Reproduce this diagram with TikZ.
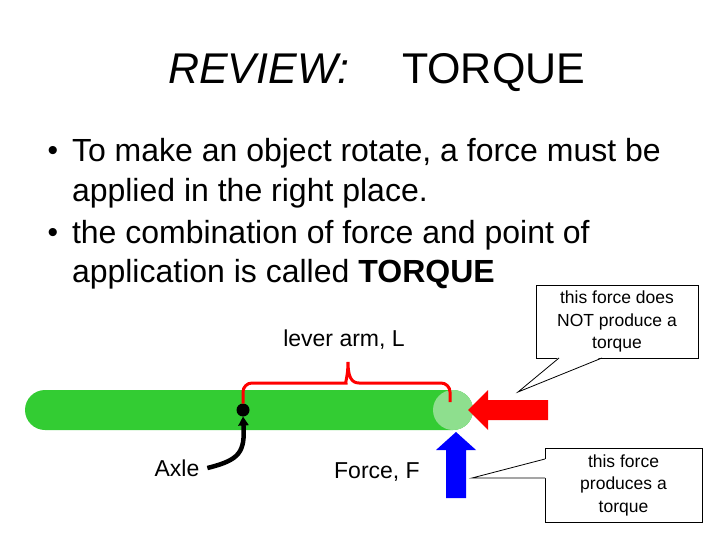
\documentclass[tikz,border=0pt]{standalone}
\usepackage{fontspec}
\setmainfont{Liberation Sans}
\usepackage{xcolor}
\usetikzlibrary{positioning,calc,arrows.meta}
\definecolor{bargreen}{HTML}{33CC33}
\definecolor{tipgreen}{HTML}{8EDF8E}

\begin{document}
\begin{tikzpicture}[x=1bp, y=-1bp,
  every node/.style={inner sep=0pt, outer sep=0pt},
  bodytext/.style={anchor=base west, font=\fontsize{32bp}{40bp}\selectfont},
  bulletdot/.style={font=\fontsize{30bp}{36bp}\selectfont},
  tag/.style={font=\fontsize{23bp}{28bp}\selectfont},
  callout/.style={draw, fill=white, line width=0.8bp, align=center, font=\fontsize{17.5bp}{22.5bp}\selectfont},
  pointer/.style={line width=0.8bp}]
\fill[white] (0,0) rectangle (720,540);
\useasboundingbox (0,0) rectangle (720,540);
% title
\node[anchor=base west, font=\fontsize{43bp}{50bp}\selectfont\itshape] (review) at (168,84) {REVIEW:};
\node[anchor=base west, font=\fontsize{43bp}{50bp}\selectfont] (torque) at (402,84) {TORQUE};
% bullets
\node[bulletdot] (dot1) at (53,153) {•};
\node[bodytext] (line1) at (72,162) {To make an object rotate, a force must be};
\node[bodytext] (line2) at (72,202) {applied in the right place.};
\node[bulletdot] (dot2) at (53,235) {•};
\node[bodytext] (line3) at (72,244) {the combination of force and point of};
\node[bodytext] (line4) at (72,283) {application is called \textbf{TORQUE}};
% lever
\fill[bargreen, rounded corners=20bp] (25,390) rectangle (473,430);
\node[circle, fill=tipgreen, minimum size=40bp] (apply) at (453,410) {};
\node[circle, fill=black, minimum size=13bp] (axle) at (243,410) {};
% lever arm brace
\draw[red, line width=3bp] (axle.north) [rounded corners=9bp] |- (337,383) [sharp corners]
  .. controls (345,383) and (348,376) .. (348,362)
  .. controls (348,376) and (351,383) .. (359,383) [rounded corners=9bp]
  -| ($(apply.center)+(-3,-8)$);
\node[tag] (leverlbl) at (344,340) {lever arm, L};
% axle
\node[tag] (axlelbl) at (177,468) {Axle};
\draw[line width=4.5bp, -{Triangle[length=9bp,width=10bp]}] ([xshift=8bp]axlelbl.east)
  .. controls (240,460) and (245,452) .. (axle.south);
% forces
\fill[red] (468,410) -- (488,390) -- (488,400) -- (548,400) -- (548,420) -- (488,420) -- (488,430) -- cycle;
\fill[blue] (456,432) -- (476,450) -- (466,450) -- (466,498) -- (446,498) -- (446,450) -- (436,450) -- cycle;
\node[tag] (forcelbl) at (377,472) {Force, F};
% callouts
\node[callout, minimum width=162bp, minimum height=73bp] (nobox) at (617,321.5) {this force does\\NOT produce a\\torque};
\coordinate (notip) at (518,392);
\fill[white] ($(nobox.south west)+(23,-1)$) -- (notip) -- ($(nobox.south west)+(66,-1)$) -- cycle;
\draw[pointer] ($(nobox.south west)+(23,0)$) -- (notip) -- ($(nobox.south west)+(66,0)$);
\node[callout, minimum width=157bp, minimum height=74bp] (yesbox) at (623.5,485) {this force\\produces a\\torque};
\coordinate (yestip) at (472,478);
\fill[white] ($(yesbox.north west)+(1,11)$) -- (yestip) -- ($(yesbox.north west)+(1,30)$) -- cycle;
\draw[pointer] ($(yesbox.north west)+(0,11)$) -- (yestip) -- ($(yesbox.north west)+(0,30)$);
\end{tikzpicture}
\end{document}
